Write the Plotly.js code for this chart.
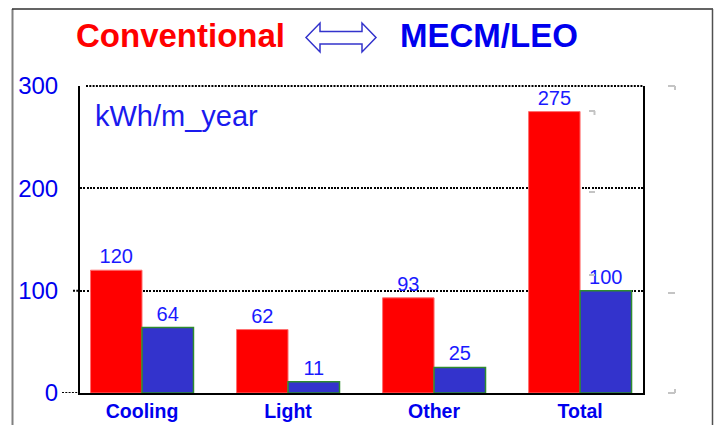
<!DOCTYPE html>
<html>
<head>
<meta charset="utf-8">
<script src="https://cdn.plot.ly/plotly-3.0.1.min.js"></script>
<style>html,body{margin:0;padding:0;background:#fff;}#chart{width:715px;height:425px;}</style>
</head>
<body>
<div id="chart"></div>
<script>
const categories = ["Cooling", "Light", "Other", "Total"];
const conventional = [120, 62, 93, 275];
const mecmLeo = [64, 11, 25, 100];
const yTicks = [0, 100, 200, 300];
const unitLabel = "kWh/m_year";
const titleLeft = "Conventional";
const titleRight = "MECM/LEO";

// plot area geometry (pixels)
const L = 80, R = 643, T = 86, B = 393, W = 715, H = 425;
const px = x => (x - L) / (R - L);
const py = y => (B - y) / (B - T);
function path(pts) {
  return "M " + pts.map(p => px(p[0]) + "," + py(p[1])).join(" L ") + " Z";
}
function line(x0, y0, x1, y1, color, width) {
  return {type: "line", xref: "paper", yref: "paper", x0: px(x0), y0: py(y0), x1: px(x1), y1: py(y1),
          line: {color: color, width: width}, layer: "above"};
}

const font = "Liberation Sans, Arial, sans-serif";
const labelBlue = "#1a1aff";

const traces = [
  {
    type: "bar", x: categories, y: conventional, name: titleLeft,
    marker: {color: "#ff0000", line: {color: "#ff7070", width: 1}},
    text: conventional.map(String), textposition: "outside", cliponaxis: false,
    constraintext: "none",
    textfont: {family: font, size: 20, color: labelBlue}
  },
  {
    type: "bar", x: categories, y: mecmLeo, name: titleRight,
    marker: {color: "#3333cc", line: {color: "#2e8b2e", width: 1.5}},
    text: mecmLeo.map(String), textposition: "outside", cliponaxis: false,
    constraintext: "none",
    textfont: {family: font, size: 20, color: labelBlue}
  }
];

const arrow = [[306, 37.5], [320, 23], [320, 31.5], [362, 31.5], [362, 23], [376, 37.5],
               [362, 52], [362, 44], [320, 44], [320, 52]];

const gray = "#c4c4c4";
const dotted = {color: "#000", width: 2, dash: "2px,1.3px"};
const layout = {
  width: W, height: H,
  margin: {l: L, r: W - R, t: T, b: H - B, pad: 0},
  paper_bgcolor: "#fff", plot_bgcolor: "#fff",
  showlegend: false,
  barmode: "group", bargap: 0.295, bargroupgap: 0,
  font: {family: font},
  xaxis: {
    type: "category", range: [-0.4247, 3.431], fixedrange: true,
    showline: true, linecolor: "#000", linewidth: 2, mirror: false,
    showgrid: false, zeroline: false, ticks: "", automargin: false,
    tickfont: {family: font, size: 19.5, color: "#0000ee", weight: "bold"}
  },
  yaxis: {
    range: [0, 300], tickvals: yTicks, ticktext: yTicks.map(String),
    showline: true, linecolor: "#000", linewidth: 2, mirror: true,
    showgrid: true, gridcolor: "#000", gridwidth: 2, griddash: "2px,1.3px",
    zeroline: false, ticks: "", ticklabelstandoff: 15, automargin: false,
    layer: "above traces",
    tickfont: {family: font, size: 24, color: "#0000ee"}
  },
  annotations: [
    {xref: "paper", yref: "paper", x: px(180), y: py(36), xanchor: "center", yanchor: "middle",
     text: titleLeft, showarrow: false, font: {family: font, size: 33, color: "#ff0000", weight: "bold"}},
    {xref: "paper", yref: "paper", x: px(489), y: py(36), xanchor: "center", yanchor: "middle",
     text: titleRight, showarrow: false, font: {family: font, size: 33, color: "#0000ee", weight: "bold"}},
    {xref: "paper", yref: "paper", x: px(93), y: py(116), xanchor: "left", yanchor: "middle",
     text: unitLabel, showarrow: false, font: {family: font, size: 29, color: "#1a1aee"}}
  ],
  shapes: [
    {type: "line", xref: "paper", yref: "paper", x0: px(86), x1: 1, y0: 1, y1: 1,
     line: dotted, layer: "below"},
    {type: "line", xref: "paper", yref: "y", x0: px(62), x1: 0, y0: yTicks[0], y1: yTicks[0],
     line: dotted, layer: "below"},
    {type: "line", xref: "paper", yref: "y", x0: px(73), x1: 0, y0: yTicks[1], y1: yTicks[1],
     line: dotted, layer: "below"},
    {type: "path", xref: "paper", yref: "paper", path: path(arrow),
     fillcolor: "#fff", line: {color: "#3333cc", width: 1.5}, layer: "above"},
    line(12.5, 9, 12.5, 425, "#808080", 2),
    line(12, 9, 713, 9, "#303030", 1.5),
    line(712.5, 9, 712.5, 425, "#505050", 1.5),
    line(668, 86, 675, 86, gray, 2), line(675, 86, 675, 90, gray, 2),
    line(589, 111, 595, 111, gray, 2), line(594.5, 111, 594.5, 115, gray, 2),
    line(589, 192, 595, 192, gray, 2),
    line(589, 275, 595, 275, gray, 2),
    line(668, 293, 675, 293, gray, 2),
    line(668, 393, 675, 393, gray, 2), line(675, 389, 675, 393, gray, 2)
  ]
};

Plotly.newPlot("chart", traces, layout, {displayModeBar: false, staticPlot: true});
</script>
</body>
</html>
